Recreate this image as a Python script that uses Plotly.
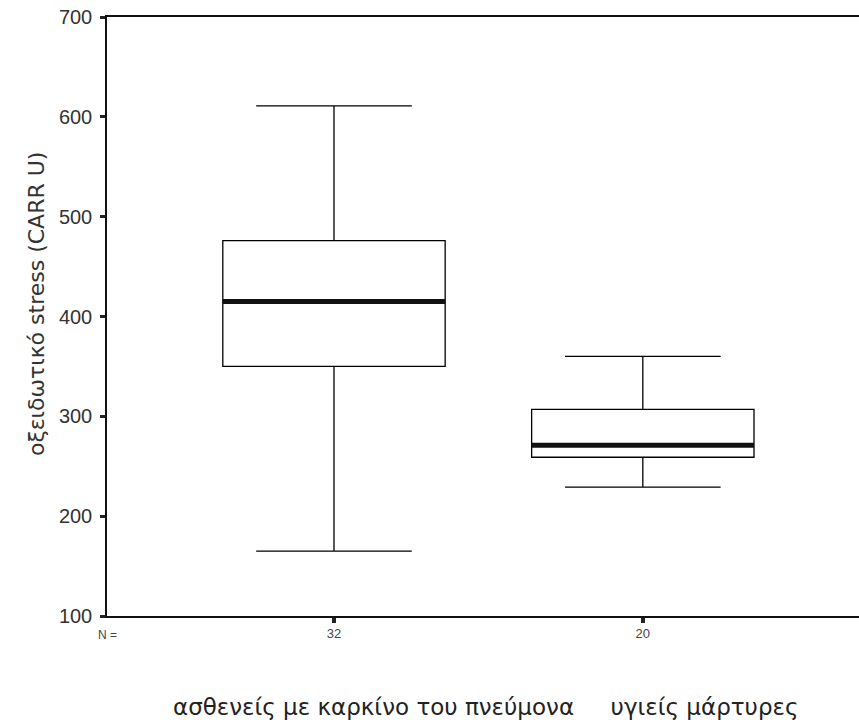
import plotly.graph_objects as go

# ---- data ----
categories = ["ασθενείς με καρκίνο του πνεύμονα", "υγιείς μάρτυρες"]
n_counts = [32, 20]
lower_whisker = [165, 229]
q1_vals = [350, 259]
median_vals = [415, 271]
q3_vals = [476, 307]
upper_whisker = [611, 360]
y_ticks = [100, 200, 300, 400, 500, 600, 700]

W, H = 859, 723
L, R, T, B = 107, 0, 17, 107
pw, ph = W - L - R, H - T - B

fig = go.Figure()

# boxes
fig.add_trace(go.Box(
    x=categories, q1=q1_vals, median=median_vals, q3=q3_vals,
    lowerfence=lower_whisker, upperfence=upper_whisker,
    width=0.72, whiskerwidth=0.70,
    fillcolor="white", line=dict(color="black", width=1.3),
    boxpoints=False, hoverinfo="skip", showlegend=False,
))
# thick median lines
fig.add_trace(go.Box(
    x=categories, q1=median_vals, median=median_vals, q3=median_vals,
    lowerfence=median_vals, upperfence=median_vals,
    width=0.72, whiskerwidth=0,
    fillcolor="rgba(0,0,0,0)", line=dict(color="#111111", width=5),
    boxpoints=False, hoverinfo="skip", showlegend=False,
))

title_font = "DejaVu Sans, Liberation Sans, sans-serif"

fig.update_layout(
    width=W, height=H,
    margin=dict(l=L, r=R, t=T, b=B, pad=0),
    paper_bgcolor="white", plot_bgcolor="white",
    boxmode="overlay",
    font=dict(family="Liberation Sans, Arial, sans-serif", color="#333333"),
    xaxis=dict(
        type="category", range=[-0.735, 1.70],
        tickvals=categories, ticktext=[str(n) for n in n_counts],
        ticks="outside", ticklen=5, tickwidth=4, tickcolor="#222222",
        tickfont=dict(size=13, color="#444444"),
        showline=True, linecolor="#111111", linewidth=1.5, mirror=True,
        showgrid=False, zeroline=False, fixedrange=True,
    ),
    yaxis=dict(
        range=[100, 700], tickvals=y_ticks,
        ticks="outside", ticklen=5, tickwidth=3, tickcolor="#222222",
        ticklabelstandoff=4,
        tickfont=dict(size=20, color="#333333"),
        showline=True, linecolor="#111111", linewidth=1.5,
        showgrid=False, zeroline=False, fixedrange=True,
    ),
    annotations=[
        dict(text="οξειδωτικό stress (CARR U)", textangle=-90,
             xref="paper", yref="paper", x=(36 - L) / pw, y=(H - B - 304) / ph,
             xanchor="center", yanchor="middle", showarrow=False,
             font=dict(family=title_font, size=22, color="#333333")),
        dict(text="ασθενείς με καρκίνο του πνεύμονα &nbsp;&nbsp;&nbsp; υγιείς μάρτυρες",
             xref="paper", yref="paper", x=(485 - L) / pw, y=(H - B - 707) / ph,
             xanchor="center", yanchor="middle", showarrow=False,
             font=dict(family=title_font, size=23, color="#222222")),
        dict(text="N =", xref="paper", yref="paper",
             x=(107 - L) / pw, y=(H - B - 635) / ph,
             xanchor="center", yanchor="middle", showarrow=False,
             font=dict(size=12, color="#444444")),
    ],
)

fig.write_html("out.html")
